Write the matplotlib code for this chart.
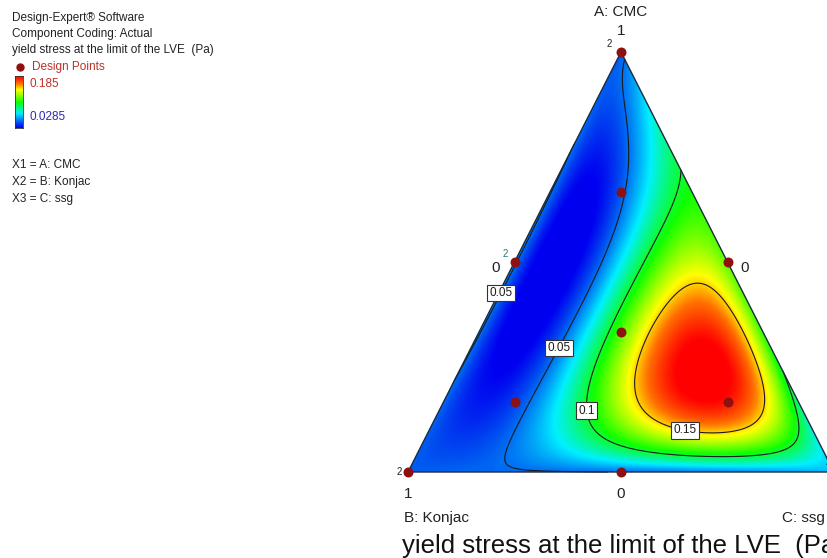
import numpy as np
import matplotlib
matplotlib.use("Agg")
import matplotlib.pyplot as plt
from matplotlib.colors import LinearSegmentedColormap
from matplotlib.patches import Polygon
from matplotlib.lines import Line2D

plt.rcParams['font.family'] = ['Liberation Sans', 'DejaVu Sans']

# ---- design points (A: CMC, B: Konjac, C: ssg) ----
design_A = [1.0, 0.0, 0.0, 0.5, 0.5, 0.0, 1/3, 2/3, 1/6, 1/6]
design_B = [0.0, 1.0, 0.0, 0.5, 0.0, 0.5, 1/3, 1/6, 2/3, 1/6]
design_C = [0.0, 0.0, 1.0, 0.0, 0.5, 0.5, 1/3, 1/6, 1/6, 2/3]
design_y = [0.047, 0.047, 0.066, 0.050, 0.115, 0.050, 0.103, 0.046, 0.048, 0.185]

# ---- response values at further compositions ----
read_A = [0.75, 0.25, 0.529, 0.124, 0.814, 0.314, 0.679, 0.457, 0.243, 0.10,
          0.0, 0.0, 0.0, 0.552, 0.393, 0.171, 0.048, 0.10, 0.72, 0.22,
          0.452, 0.236, 0.171, 0.093, 0.23]
read_B = [0.25, 0.75, 0.379, 0.769, 0.1425, 0.58, 0.139, 0.321, 0.533, 0.71,
          0.7, 0.3, 0.15, 0.165, 0.306, 0.499, 0.408, 0.054, 0.0, 0.0,
          0.105, 0.361, 0.068, 0.293, 0.19]
read_y = [0.050, 0.050, 0.030, 0.031, 0.038, 0.031, 0.050, 0.050, 0.050, 0.050,
          0.048, 0.052, 0.058, 0.100, 0.100, 0.100, 0.100, 0.100, 0.100, 0.100,
          0.150, 0.150, 0.150, 0.150, 0.190]

contour_levels = [0.05, 0.1, 0.15]
cbar_min, cbar_max = 0.0285, 0.185

W, H = 827, 558
fig = plt.figure(figsize=(W/100, H/100), dpi=100)
ax = fig.add_axes([0, 0, 1, 1])
x0p, sx = 408, 426
y0p, sy = 472, 420
ax.set_xlim((0 - x0p)/sx, (W - x0p)/sx)
ax.set_ylim((y0p - H)/sy, y0p/sy)
ax.axis('off')

def to_xy(a, c):
    a = np.asarray(a); c = np.asarray(c)
    return c + 0.5*a, a

powers = [(i, j, 4 - i - j) for i in range(5) for j in range(5 - i)]
def terms(a, b, c):
    return np.stack([a**i * b**j * c**k for (i, j, k) in powers], axis=-1)

fa = np.array(design_A + read_A)
fb = np.array(design_B + read_B)
fc = 1 - fa - fb
fy = np.array(design_y + read_y)
coef, *_ = np.linalg.lstsq(terms(fa, fb, fc), fy, rcond=None)

n = 500
gx = np.linspace(0, 1, n)
gy = np.linspace(0, 1, n)
GX, GY = np.meshgrid(gx, gy)
GA = GY
GC = GX - 0.5*GY
GB = 1 - GA - GC
Z = terms(GA, GB, GC) @ coef
inside = (GB >= -2e-3) & (GC >= -2e-3)
Zm = np.ma.masked_where(~inside, Z)

cmap = LinearSegmentedColormap.from_list('de', [(0, '#0000f0'), (0.1, '#0050f0'), (0.28, '#00f0ff'),
                                                (0.5, '#10ff00'), (0.74, '#ffff00'), (0.86, '#ff7000'),
                                                (1, '#ff0000')])

tri = Polygon([[0, 0], [1, 0], [0.5, 1]], closed=True, facecolor='none', edgecolor='#1a2a40', lw=1.0, zorder=5)
ax.add_patch(tri)
im = ax.imshow(Z, extent=(0, 1, 0, 1), origin='lower', cmap=cmap, vmin=cbar_min, vmax=cbar_max,
               interpolation='bilinear', aspect='auto', zorder=1)
im.set_clip_path(tri)

cs = ax.contour(GX, GY, Zm, levels=contour_levels, colors='#1a1a1a', linewidths=0.8, zorder=3)

def pxy(px, py):
    return ((px - x0p)/sx, (y0p - py)/sy)

labs = ax.clabel(cs, inline=False, fontsize=8.5, fmt=lambda v: f"{v:g}",
                 manual=[pxy(495, 290), pxy(552, 344), pxy(583, 411), pxy(686, 425)])
for t in labs:
    t.set_rotation(0)
    t.set_bbox(dict(facecolor='white', edgecolor='#333333', pad=1.5, lw=0.8))
    t.set_zorder(6)

px, py = to_xy(design_A, design_C)
ax.scatter(px, py, s=38, color='#8e1010', zorder=7, clip_on=False)

def ftext(xp, ypix, s, **kw):
    fig.text(xp/W, 1 - ypix/H, s, **kw)

# replicate labels
ftext(612, 44, '2', fontsize=7, ha='right', va='center', color='#222222')
ftext(508, 254, '2', fontsize=7, ha='right', va='center', color='#207a7a')
ftext(402, 472, '2', fontsize=7, ha='right', va='center', color='#222222')
ftext(828, 462, '2', fontsize=7, ha='center', va='center', color='#222222')

# axis labels
ftext(621, 12, 'A: CMC', fontsize=11, ha='center', va='center', color='#222222')
ftext(621, 31, '1', fontsize=11, ha='center', va='center', color='#222222')
ftext(496, 268, '0', fontsize=11, ha='center', va='center', color='#222222')
ftext(745, 268, '0', fontsize=11, ha='center', va='center', color='#222222')
ftext(408, 494, '1', fontsize=11, ha='center', va='center', color='#222222')
ftext(621, 494, '0', fontsize=11, ha='center', va='center', color='#222222')
ftext(834, 494, '1', fontsize=11, ha='center', va='center', color='#222222')
ftext(404, 518, 'B: Konjac', fontsize=11, ha='left', va='center', color='#222222')
ftext(782, 518, 'C: ssg', fontsize=11, ha='left', va='center', color='#222222')
ftext(402, 546, 'yield stress at the limit of the LVE  (Pa)', fontsize=18.5, ha='left', va='center',
      color='#111111')

# left info panel
ftext(12, 18, 'Design-Expert® Software', fontsize=8.5, ha='left', va='center', color='#222222')
ftext(12, 34, 'Component Coding: Actual', fontsize=8.5, ha='left', va='center', color='#222222')
ftext(12, 50, 'yield stress at the limit of the LVE  (Pa)', fontsize=8.5, ha='left', va='center', color='#222222')
fig.add_artist(Line2D([20/W], [1 - 67/H], marker='o', markersize=5, color='#8e1010',
                      transform=fig.transFigure))
ftext(32, 67, 'Design Points', fontsize=8.5, ha='left', va='center', color='#c0302a')
cax = fig.add_axes([15/W, 1 - 128/H, 8/W, 52/H])
cax.imshow(np.linspace(0, 1, 100).reshape(-1, 1), cmap=cmap, aspect='auto', origin='lower')
cax.set_xticks([]); cax.set_yticks([])
for s in cax.spines.values():
    s.set_color('#333333'); s.set_linewidth(0.6)
ftext(29, 84, f'{cbar_max:g}', fontsize=8.5, ha='left', va='center', color='#c0302a')
ftext(29, 117, f'{cbar_min:g}', fontsize=8.5, ha='left', va='center', color='#2a2ab0')
ftext(12, 165, 'X1 = A: CMC', fontsize=8.5, ha='left', va='center', color='#222222')
ftext(12, 182, 'X2 = B: Konjac', fontsize=8.5, ha='left', va='center', color='#222222')
ftext(12, 199, 'X3 = C: ssg', fontsize=8.5, ha='left', va='center', color='#222222')

fig.savefig('out.png', dpi=100)
